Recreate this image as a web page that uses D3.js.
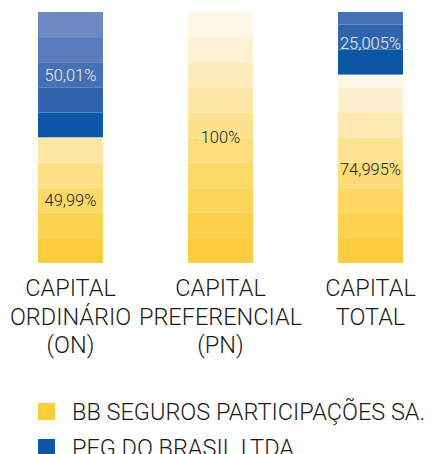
<!DOCTYPE html>
<html>
<head>
<meta charset="utf-8">
<script src="https://cdnjs.cloudflare.com/ajax/libs/d3/7.8.5/d3.min.js"></script>
<style>
  html, body { margin: 0; padding: 0; background: #fff; }
  svg { display: block; font-family: Roboto, "Liberation Sans", Arial, sans-serif; }
</style>
</head>
<body>
<div id="chart"></div>
<script>
// shareholders and their share of each capital class (%)
var categories = ["ON", "PN", "TOTAL"];
var categoryLines = [
  ["CAPITAL", "ORDINÁRIO", "(ON)"],
  ["CAPITAL", "PREFERENCIAL", "(PN)"],
  ["CAPITAL", "TOTAL"]
];
var pfgValues = [50.01, 0, 25.005];
var bbValues = [49.99, 100, 74.995];
var legendLabels = ["BB SEGUROS PARTICIPAÇÕES SA.", "PFG DO BRASIL LTDA."];

// shades, darkest first
var yellowShades = ["#fdcd3f", "#fdd14b", "#fdd558", "#fdd968", "#fede7b",
                    "#fee290", "#fee7a6", "#feecbd", "#fff1d3", "#fff8e8"];
var blueShades = ["#0b57a6", "#2f64ad", "#4570b4", "#5a7cbc", "#6e89c3"];

var W = 436, H = 454;
var svg = d3.select("#chart").append("svg")
    .attr("width", W)
    .attr("height", H);

var x = d3.scaleBand()
    .domain(categories)
    .range([-4.5, 445.5])
    .paddingInner(0.567)
    .paddingOuter(0.2835);

// 0% at the top of the bar, 100% at the bottom
var y = d3.scaleLinear().domain([0, 100]).range([12, 263]);

var yellowAt = d3.scaleLinear().domain(d3.range(10)).range(yellowShades).clamp(true);

var comma = d3.formatLocale({decimal: ",", thousands: ".", grouping: [3], currency: ["", ""]});
var fmt = comma.format(".6~r");

// split a segment into 10% bands counted up from its lower end
var bands = function(from, to) {
  var out = [];
  for (var k = 0; k < 10; k++) {
    var b = to - 10 * k, a = Math.max(from, b - 10);
    if (b <= from) break;
    out.push({k: k, a: a, b: b});
  }
  return out;
};

var bars = svg.selectAll("g.bar")
  .data(categories)
  .enter().append("g")
    .attr("class", "bar")
    .attr("transform", function(d) { return "translate(" + x(d) + ",0)"; });

bars.each(function(d, i) {
  var g = d3.select(this);
  var top = pfgValues[i];

  // blue: darkest next to the boundary, lighter going up
  g.selectAll("rect.pfg")
    .data(bands(0, top))
    .enter().append("rect")
      .attr("class", "pfg")
      .attr("x", 0)
      .attr("width", x.bandwidth())
      .attr("y", function(b) { return y(b.a); })
      .attr("height", function(b) { return y(b.b) - y(b.a); })
      .attr("fill", function(b) { return blueShades[Math.min(b.k, blueShades.length - 1)]; });

  // yellow: darkest at the bottom, spread over the stack
  var yb = bands(top, 100);
  var n = yb.length;
  var maxIdx = Math.min(9, n + 1);
  g.selectAll("rect.bb")
    .data(yb)
    .enter().append("rect")
      .attr("class", "bb")
      .attr("x", 0)
      .attr("width", x.bandwidth())
      .attr("y", function(b) { return y(b.a); })
      .attr("height", function(b) { return y(b.b) - y(b.a); })
      .attr("fill", function(b) { return yellowAt(n > 1 ? b.k * maxIdx / (n - 1) : 0); });

  if (top > 0) {
    g.append("text")
      .attr("x", x.bandwidth() / 2)
      .attr("y", y(top / 2))
      .attr("dy", "0.36em")
      .attr("text-anchor", "middle")
      .attr("font-size", 16.5)
      .attr("font-weight", 300)
      .attr("fill", "#eef2fa")
      .text(fmt(top) + "%");
  }
  g.append("text")
    .attr("x", x.bandwidth() / 2)
    .attr("y", y(top + bbValues[i] / 2))
    .attr("dy", "0.36em")
    .attr("text-anchor", "middle")
    .attr("font-size", 16.5)
    .attr("font-weight", 300)
    .attr("fill", "#222")
    .text(fmt(bbValues[i]) + "%");
});

// category names under the bars
svg.selectAll("text.cat")
  .data(categories)
  .enter().append("text")
    .attr("class", "cat")
    .attr("text-anchor", "middle")
    .attr("font-size", 23.5)
    .attr("font-weight", 300)
    .attr("fill", "#1a1a1a")
    .attr("transform", function(d) { return "translate(" + (x(d) + x.bandwidth() / 2) + ",296)"; })
  .selectAll("tspan")
  .data(function(d, i) { return categoryLines[i]; })
  .enter().append("tspan")
    .attr("x", 0)
    .attr("y", function(d, j) { return j * 28.5; })
    .text(function(d) { return d; });

// legend
var legend = svg.selectAll("g.legend")
  .data(legendLabels)
  .enter().append("g")
    .attr("class", "legend")
    .attr("transform", function(d, i) { return "translate(38," + (403 + i * 36) + ")"; });

legend.append("rect")
  .attr("width", 17)
  .attr("height", 17)
  .attr("fill", function(d, i) { return i === 0 ? yellowShades[0] : blueShades[0]; });

legend.append("text")
  .attr("x", 34)
  .attr("y", 16.5)
  .attr("font-size", 23.5)
  .attr("font-weight", 300)
  .attr("fill", "#1a1a1a")
  .text(function(d) { return d; });
</script>
</body>
</html>
